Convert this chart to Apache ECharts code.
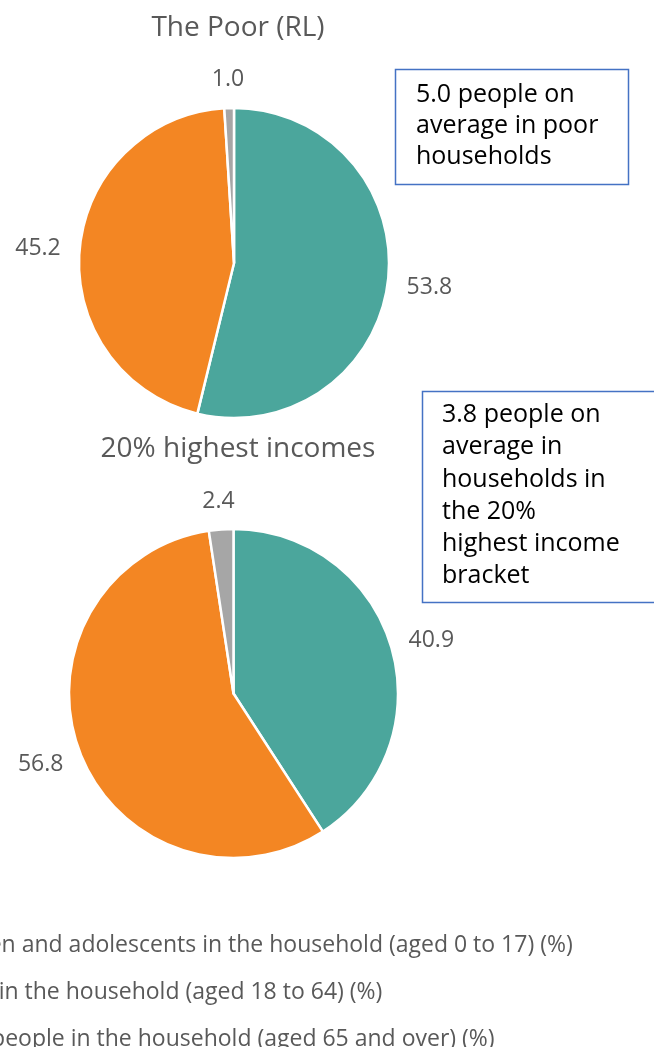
<!DOCTYPE html>
<html><head><meta charset="utf-8">
<script src="https://cdn.jsdelivr.net/npm/echarts@6/dist/echarts.min.js"></script>
<style>html,body{margin:0;padding:0;background:#fff}#c{width:654px;height:1047px}</style>
</head><body><div id="c"></div>
<script>
const categories = ['Children and adolescents in the household (aged 0 to 17) (%)','Adults in the household (aged 18 to 64) (%)','Older people in the household (aged 65 and over) (%)'];
const poorValues = [53.8, 45.2, 1.0];
const richValues = [40.9, 56.8, 2.4];
const titles = ['The Poor (RL)', '20% highest incomes'];
const notes = ['5.0 people on\naverage in poor\nhouseholds', '3.8 people on\naverage in\nhouseholds in\nthe 20%\nhighest income\nbracket'];
const colors = ['#4BA69C', '#F38623', '#A6A6A6'];

const FONT = '"Open Sans", sans-serif';
const chart = echarts.init(document.getElementById('c'));
function pie(vals, center, r) {
  return {
    type: 'pie', center: center, radius: r, startAngle: 90, clockwise: true,
    avoidLabelOverlap: false,
    data: categories.map((n, i) => ({name: n, value: vals[i]})),
    itemStyle: {borderColor: '#fff', borderWidth: 2.5},
    label: {show: true, position: 'outside', formatter: p => p.value.toFixed(1), color: '#595959', fontSize: 23, fontFamily: FONT},
    labelLine: {show: true, length: 19, length2: 0, lineStyle: {opacity: 0}},
    labelLayout: function (p) {
      const pts = p.labelLinePoints;
      if (!pts) return {};
      let dx = pts[1][0] - pts[0][0], dy = pts[1][1] - pts[0][1];
      const L = Math.hypot(dx, dy) || 1; dx /= L; dy /= L;
      const w = p.labelRect.width, h = p.labelRect.height;
      return {x: pts[1][0] + dx * w / 2, y: pts[1][1] + dy * h / 2 + 2, align: 'center', verticalAlign: 'middle'};
    },
    emphasis: {disabled: true}, animation: false
  };
}
chart.setOption({
  color: colors,
  animation: false,
  title: [
    {text: titles[0], left: 233, top: 9, textAlign: 'center', textStyle: {fontSize: 28, fontWeight: 'normal', color: '#595959', fontFamily: FONT}},
    {text: titles[1], left: 233, top: 430, textAlign: 'center', textStyle: {fontSize: 28, fontWeight: 'normal', color: '#595959', fontFamily: FONT}}
  ],
  legend: {
    orient: 'vertical', left: -100, top: 929, height: 300, itemWidth: 14, itemHeight: 14, itemGap: 24,
    icon: 'rect', data: categories,
    textStyle: {fontSize: 23, color: '#595959', fontFamily: FONT}
  },
  series: [pie(poorValues, [234, 263], 155), pie(richValues, [233.5, 693.5], 164.5)],
  graphic: [
    {type: 'rect', shape: {x: 395.5, y: 69.5, width: 233, height: 115}, style: {fill: '#fff', stroke: '#4472C4', lineWidth: 1.5}},
    {type: 'text', x: 416, y: 79.5, style: {text: notes[0], fontSize: 25, lineHeight: 31, fill: '#000', fontFamily: FONT}},
    {type: 'rect', shape: {x: 422.5, y: 391.5, width: 240, height: 211}, style: {fill: '#fff', stroke: '#4472C4', lineWidth: 1.5}},
    {type: 'text', x: 442, y: 399, style: {text: notes[1], fontSize: 25, lineHeight: 32.2, fill: '#000', fontFamily: FONT}}
  ]
});
</script></body></html>
